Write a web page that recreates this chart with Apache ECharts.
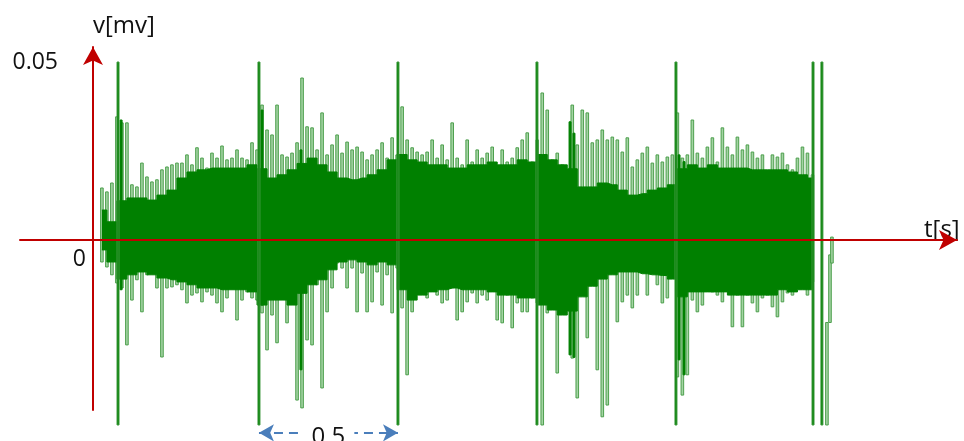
<!DOCTYPE html>
<html>
<head>
<meta charset="utf-8">
<script src="https://cdn.jsdelivr.net/npm/echarts@6/dist/echarts.min.js"></script>
<style>
  html, body { margin: 0; padding: 0; background: #fff; }
  #chart { width: 964px; height: 441px; }
</style>
</head>
<body>
<div id="chart"></div>
<script>
// Recorded signal, v in mV, t in s.
// Fine envelope: one positive and one negative excursion per sample slot.
const peakStart = 0.032;   // s, first sample slot
const peakStep = 0.018;    // s, slot spacing
const peakHigh = [
  0.0146, 0.0135, 0.0160, 0.0346, 0.0329, 0.0329, 0.0155, 0.0149, 0.0216, 0.0177,
  0.0163, 0.0169, 0.0197, 0.0205, 0.0211, 0.0216, 0.0216, 0.0239, 0.0211, 0.0259,
  0.0230, 0.0202, 0.0244, 0.0230, 0.0264, 0.0225, 0.0230, 0.0253, 0.0230, 0.0225,
  0.0273, 0.0253, 0.0379, 0.0309, 0.0295, 0.0379, 0.0239, 0.0233, 0.0244, 0.0273,
  0.0455, 0.0318, 0.0315, 0.0253, 0.0357, 0.0239, 0.0267, 0.0295, 0.0244, 0.0275,
  0.0253, 0.0261, 0.0247, 0.0225, 0.0239, 0.0253, 0.0273, 0.0230, 0.0287, 0.0239,
  0.0374, 0.0281, 0.0259, 0.0247, 0.0239, 0.0247, 0.0281, 0.0230, 0.0267, 0.0225,
  0.0329, 0.0230, 0.0211, 0.0281, 0.0219, 0.0253, 0.0230, 0.0244, 0.0261, 0.0202,
  0.0253, 0.0219, 0.0230, 0.0259, 0.0281, 0.0301, 0.0219, 0.0281, 0.0413, 0.0365,
  0.0225, 0.0244, 0.0211, 0.0135, 0.0379, 0.0267, 0.0365, 0.0357, 0.0273, 0.0281,
  0.0309, 0.0281, 0.0289, 0.0281, 0.0247, 0.0287, 0.0205, 0.0225, 0.0244, 0.0261,
  0.0216, 0.0239, 0.0219, 0.0233, 0.0239, 0.0357, 0.0230, 0.0239, 0.0337, 0.0244,
  0.0230, 0.0261, 0.0287, 0.0219, 0.0315, 0.0261, 0.0239, 0.0289, 0.0253, 0.0267,
  0.0247, 0.0230, 0.0239, 0.0191, 0.0239, 0.0233, 0.0244, 0.0211, 0.0197, 0.0230,
  0.0261, 0.0244, 0.0183
];
const peakLow = [
  -0.0062, -0.0076, -0.0098, -0.0121, -0.0135, -0.0295, -0.0169, -0.0112, -0.0202, -0.0098,
  -0.0090, -0.0135, -0.0329, -0.0135, -0.0132, -0.0126, -0.0140, -0.0177, -0.0155, -0.0149,
  -0.0174, -0.0146, -0.0155, -0.0177, -0.0202, -0.0163, -0.0135, -0.0225, -0.0169, -0.0146,
  -0.0163, -0.0169, -0.0205, -0.0309, -0.0211, -0.0289, -0.0163, -0.0233, -0.0155, -0.0450,
  -0.0472, -0.0281, -0.0295, -0.0126, -0.0416, -0.0202, -0.0135, -0.0065, -0.0079, -0.0135,
  -0.0079, -0.0202, -0.0093, -0.0202, -0.0174, -0.0090, -0.0183, -0.0098, -0.0205, -0.0079,
  -0.0191, -0.0379, -0.0202, -0.0146, -0.0107, -0.0163, -0.0118, -0.0155, -0.0177, -0.0169,
  -0.0135, -0.0225, -0.0202, -0.0174, -0.0149, -0.0177, -0.0155, -0.0169, -0.0135, -0.0225,
  -0.0233, -0.0155, -0.0247, -0.0177, -0.0202, -0.0202, -0.0163, -0.0177, -0.0520, -0.0205,
  -0.0163, -0.0374, -0.0146, -0.0191, -0.0332, -0.0444, -0.0104, -0.0275, -0.0118, -0.0365,
  -0.0497, -0.0464, -0.0079, -0.0230, -0.0174, -0.0155, -0.0191, -0.0155, -0.0056, -0.0155,
  -0.0093, -0.0126, -0.0177, -0.0163, -0.0104, -0.0385, -0.0436, -0.0379, -0.0169, -0.0202,
  -0.0183, -0.0121, -0.0146, -0.0155, -0.0174, -0.0135, -0.0244, -0.0155, -0.0244, -0.0155,
  -0.0177, -0.0202, -0.0163, -0.0155, -0.0188, -0.0216, -0.0174, -0.0149, -0.0155, -0.0126,
  -0.0135, -0.0155, -0.0118
];

// Dense body of the signal (where the oscillations overlap), coarser slots.
const coreStart = 0.032;
const coreStep = 0.036;
const coreHigh = [
  0.0084, 0.0051, 0.0110, 0.0118, 0.0118, 0.0112, 0.0126, 0.0140, 0.0174, 0.0191,
  0.0197, 0.0202, 0.0202, 0.0202, 0.0202, 0.0211, 0.0200, 0.0174, 0.0183, 0.0197,
  0.0215, 0.0230, 0.0211, 0.0191, 0.0174, 0.0169, 0.0174, 0.0183, 0.0197, 0.0225,
  0.0240, 0.0225, 0.0219, 0.0211, 0.0211, 0.0202, 0.0202, 0.0211, 0.0211, 0.0219,
  0.0211, 0.0211, 0.0225, 0.0219, 0.0240, 0.0225, 0.0211, 0.0200, 0.0149, 0.0149,
  0.0160, 0.0155, 0.0140, 0.0126, 0.0130, 0.0140, 0.0146, 0.0155, 0.0200, 0.0211,
  0.0202, 0.0211, 0.0202, 0.0202, 0.0202, 0.0197, 0.0197, 0.0197, 0.0197, 0.0191,
  0.0183, 0.0174
];
const coreLow = [
  -0.0028, -0.0062, -0.0110, -0.0098, -0.0090, -0.0098, -0.0107, -0.0112, -0.0118, -0.0126,
  -0.0135, -0.0135, -0.0140, -0.0140, -0.0140, -0.0146, -0.0183, -0.0169, -0.0169, -0.0183,
  -0.0150, -0.0126, -0.0112, -0.0084, -0.0062, -0.0056, -0.0062, -0.0070, -0.0062, -0.0070,
  -0.0140, -0.0169, -0.0155, -0.0146, -0.0140, -0.0135, -0.0140, -0.0140, -0.0140, -0.0146,
  -0.0155, -0.0155, -0.0163, -0.0163, -0.0183, -0.0197, -0.0211, -0.0200, -0.0160, -0.0130,
  -0.0110, -0.0098, -0.0090, -0.0090, -0.0095, -0.0098, -0.0100, -0.0110, -0.0160, -0.0146,
  -0.0146, -0.0146, -0.0146, -0.0155, -0.0155, -0.0155, -0.0155, -0.0155, -0.0140, -0.0146,
  -0.0140, -0.0140
];

// Short dense bursts next to the pulses.
const burstTimes = [0.101, 0.608, 0.748, 1.716, 1.730, 2.108, 2.126];
const burstHigh  = [0.0337, 0.0365, 0.0253, 0.0332, 0.0300, 0.0239, 0.0220];
const burstLow   = [-0.0140, -0.0183, -0.0365, -0.0323, -0.0330, -0.0337, -0.0379];

// Periodic pulses (clipped at the display range).
const pulseTimes = [0.090, 0.597, 1.097, 1.597, 2.097, 2.590, 2.622];
const pulseHigh  = [0.050, 0.050, 0.050, 0.050, 0.050, 0.050, 0.050];
const pulseLow   = [-0.052, -0.052, -0.052, -0.052, -0.052, -0.052, -0.052];

// Last few samples after the recording stops.
const tailTimes = [2.640, 2.651, 2.658];
const tailHigh  = [-0.0232, -0.0042, 0.0008];
const tailLow   = [-0.052, -0.0232, -0.0065];

// Axis annotations
const yTickLabels = [0.05];
const xTickLabels = [0];
const periodFrom = 1;   // pulse index where the marked period starts
const periodTo = 2;     // pulse index where it ends

const RED = '#c00000';
const GREEN = '#008000';
const LIGHT_FILL = '#a3d3a3';
const LIGHT_EDGE = '#4c9f4c';
const BLUE = '#4a7ebb';
const TEXT = '#111111';
const FONT = '"Open Sans", "DejaVu Sans", sans-serif';

function slotTimes(start, step, n) {
  const out = [];
  for (let k = 0; k < n; k++) out.push(+(start + k * step).toFixed(4));
  return out;
}
function ranges(times, lows, highs) {
  return times.map((t, i) => [t, lows[i], highs[i]]);
}
function pairs(times, vals) {
  return times.map((t, i) => [t, vals[i]]);
}
// one sample slot drawn as a narrow vertical bar from its low to its high value
function slotBar(fill, edge, width) {
  return function (params, api) {
    const a = api.coord([api.value(0), api.value(2)]);
    const b = api.coord([api.value(0), api.value(1)]);
    return {
      type: 'rect',
      shape: { x: a[0] - width / 2, y: a[1], width: width, height: b[1] - a[1] },
      style: { fill: fill, stroke: edge, lineWidth: 1 }
    };
  };
}

const peakTimes = slotTimes(peakStart, peakStep, peakHigh.length);
const coreTimes = slotTimes(coreStart, coreStep, coreHigh.length);

const tMin = -0.2626, tMax = 3.1079;
const arrowY = -0.0542;

const hidden = { show: false };
const chart = echarts.init(document.getElementById('chart'), null, { renderer: 'canvas' });
chart.setOption({
  animation: false,
  backgroundColor: '#ffffff',
  textStyle: { fontFamily: FONT },
  grid: [
    // signal
    { left: 93, right: 7, top: 62, bottom: 0, outerBoundsMode: 'none' },
    // horizontal time axis
    { left: 20, right: 7, top: 47, bottom: 201, outerBoundsMode: 'none' },
    // vertical voltage axis
    { left: 93, right: 7, top: 47, bottom: 31, outerBoundsMode: 'none' }
  ],
  xAxis: [
    { gridIndex: 0, type: 'value', min: 0, max: tMax, show: false },
    {
      gridIndex: 1, type: 'value', min: tMin, max: tMax, z: 10, position: 'bottom',
      axisLine: { show: true, onZero: false, lineStyle: { color: RED, width: 2 },
                  symbol: ['none', 'arrow'], symbolSize: [15, 18] },
      axisTick: hidden, splitLine: hidden,
      axisLabel: { show: true, customValues: xTickLabels, fontSize: 23, color: TEXT,
                   fontFamily: FONT, align: 'right', margin: 8, padding: [0, 7, 0, 0] },
      name: 't[s]', nameLocation: 'end', nameGap: -33,
      nameTextStyle: { fontSize: 24, color: TEXT, fontFamily: FONT, align: 'left',
                       verticalAlign: 'bottom', lineHeight: 20 }
    },
    { gridIndex: 2, type: 'value', min: 0, max: 1, show: false }
  ],
  yAxis: [
    {
      gridIndex: 0, type: 'value', min: -0.0565, max: 0.05, position: 'left',
      axisLine: { show: false, onZero: false }, axisTick: hidden, splitLine: hidden,
      axisLabel: { show: true, customValues: yTickLabels, fontSize: 23, color: TEXT,
                   fontFamily: FONT, margin: 35 }
    },
    { gridIndex: 1, type: 'value', min: 0, max: 1, show: false },
    {
      gridIndex: 2, type: 'value', min: -0.0478, max: 0.0542, z: 10, position: 'left',
      axisLine: { show: true, onZero: false, lineStyle: { color: RED, width: 2 },
                  symbol: ['none', 'arrow'], symbolSize: [15, 18] },
      axisTick: hidden, splitLine: hidden, axisLabel: hidden,
      name: 'v[mv]', nameLocation: 'end', nameGap: 9,
      nameTextStyle: { fontSize: 24, color: TEXT, fontFamily: FONT, align: 'left' }
    }
  ],
  series: [
    {
      name: 'peaks', type: 'custom', xAxisIndex: 0, yAxisIndex: 0, z: 1,
      renderItem: slotBar(LIGHT_FILL, LIGHT_EDGE, 2.6),
      encode: { x: 0, y: [1, 2] },
      data: ranges(peakTimes, peakLow, peakHigh)
    },
    {
      name: 'tail', type: 'custom', xAxisIndex: 0, yAxisIndex: 0, z: 1,
      renderItem: slotBar(LIGHT_FILL, LIGHT_EDGE, 2.6),
      encode: { x: 0, y: [1, 2] },
      data: ranges(tailTimes, tailLow, tailHigh)
    },
    {
      name: 'core+', type: 'line', xAxisIndex: 0, yAxisIndex: 0, z: 3,
      symbol: 'none', step: 'middle', lineStyle: { color: GREEN, width: 1 },
      areaStyle: { color: GREEN, opacity: 1 },
      data: pairs(coreTimes, coreHigh),
      markLine: {
        silent: true, z: 6,
        symbol: ['arrow', 'arrow'], symbolSize: [13, 15],
        lineStyle: { color: BLUE, width: 2, type: [9, 6] },
        label: {
          show: true, position: 'middle', distance: 0, verticalAlign: 'middle',
          color: TEXT, fontSize: 24, fontFamily: FONT, offset: [0, 4],
          backgroundColor: '#ffffff', padding: [0, 9],
          formatter: () => (pulseTimes[periodTo] - pulseTimes[periodFrom]).toFixed(1)
        },
        data: [[
          { coord: [pulseTimes[periodFrom], arrowY] },
          { coord: [pulseTimes[periodTo], arrowY] }
        ]]
      }
    },
    {
      name: 'core-', type: 'line', xAxisIndex: 0, yAxisIndex: 0, z: 3,
      symbol: 'none', step: 'middle', lineStyle: { color: GREEN, width: 1 },
      areaStyle: { color: GREEN, opacity: 1 },
      data: pairs(coreTimes, coreLow)
    },
    {
      name: 'bursts', type: 'custom', xAxisIndex: 0, yAxisIndex: 0, z: 4,
      renderItem: slotBar(GREEN, GREEN, 2),
      encode: { x: 0, y: [1, 2] },
      data: ranges(burstTimes, burstLow, burstHigh)
    },
    {
      name: 'pulses', type: 'custom', xAxisIndex: 0, yAxisIndex: 0, z: 4,
      renderItem: slotBar(GREEN, '#3f993f', 2),
      encode: { x: 0, y: [1, 2] },
      data: ranges(pulseTimes, pulseLow, pulseHigh)
    }
  ]
});
</script>
</body>
</html>
